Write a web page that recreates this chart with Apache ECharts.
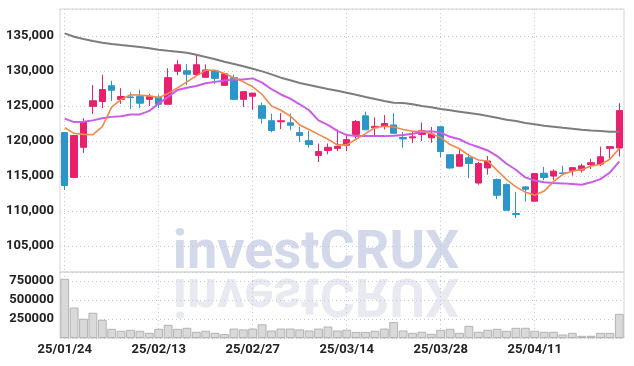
<!DOCTYPE html>
<html>
<head>
<meta charset="utf-8">
<script src="https://cdn.jsdelivr.net/npm/echarts@6/dist/echarts.min.js"></script>
<style>
html, body { margin: 0; padding: 0; background: #fff; }
#chart { width: 634px; height: 366px; }
</style>
</head>
<body>
<div id="chart"></div>
<script>
// trading days shown on the axis (yy/mm/dd)
var dates = ['25/01/24','25/01/31','25/02/03','25/02/04','25/02/05','25/02/06','25/02/07','25/02/10','25/02/11','25/02/12',
  '25/02/13','25/02/14','25/02/17','25/02/18','25/02/19','25/02/20','25/02/21','25/02/24','25/02/25','25/02/26',
  '25/02/27','25/02/28','25/03/04','25/03/05','25/03/06','25/03/07','25/03/10','25/03/11','25/03/12','25/03/13',
  '25/03/14','25/03/17','25/03/18','25/03/19','25/03/20','25/03/21','25/03/24','25/03/25','25/03/26','25/03/27',
  '25/03/28','25/03/31','25/04/01','25/04/02','25/04/03','25/04/04','25/04/07','25/04/08','25/04/09','25/04/10',
  '25/04/11','25/04/14','25/04/15','25/04/16','25/04/17','25/04/18','25/04/21','25/04/22','25/04/23','25/04/24'];

// [open, close, low, high]
var ohlc = [
  [121200,113650,113000,121200],[114800,120800,114700,120800],[119100,122750,118300,123250],[124950,125750,123850,128000],
  [125650,127350,124700,129450],[127900,127250,125700,128600],[125950,126350,125300,127550],[126300,126200,124550,126950],
  [126350,125400,124700,127350],[125950,126350,125000,126750],[126250,125250,124700,126650],[125250,129050,125250,130400],
  [129950,130900,129400,131550],[130050,129550,128000,131000],[129500,130900,129400,132250],[129100,130150,129100,130950],
  [130050,128950,128200,130050],[127950,129600,127950,129600],[129050,125950,125950,129500],[125950,127050,124850,127050],
  [126400,126850,124450,126850],[125050,123250,122500,125500],[122900,121500,121250,123900],[122750,122900,121700,124000],
  [122600,122250,121550,123900],[121200,120800,119850,122050],[120050,119500,119050,121450],[117950,118500,117000,119650],
  [118650,119100,118100,119650],[118950,119250,118550,121650],[119400,120200,118550,120750],[120950,122800,120350,123000],
  [123600,121600,121600,124200],[121900,122100,120850,123350],[122150,122500,121650,123700],[122300,121100,121100,124000],
  [120500,120300,119050,121300],[120450,120600,119700,121300],[120950,121450,120000,122650],[120450,121000,119750,122000],
  [122050,118500,117700,122050],[118050,116150,116000,118050],[116400,118050,116400,118750],[117600,116800,114700,118200],
  [114000,116800,113750,117000],[116150,117150,115200,117850],[114500,112250,111700,114650],[113800,110100,110100,113950],
  [109650,109500,109000,112700],[113450,113100,111350,113550],[111400,115350,111400,115350],[115400,114800,114400,116300],
  [115000,115700,114450,115950],[115450,115350,115150,116450],[115800,116200,115050,116300],[115850,116450,115500,116750],
  [116650,116900,116000,117450],[116700,117750,116400,119200],[118950,119200,117450,119200],[119000,124350,117800,125400]
];

var ma5 = [121900,121100,120950,120900,122050,124850,125950,126600,126550,126450,
  126200,126800,127600,128450,129300,130100,130100,129650,129050,128450,
  127750,126650,125000,124400,123550,122300,121650,120950,120250,119450,
  119450,120250,121050,121900,122100,122000,121650,121400,121400,121050,
  120500,119500,118900,117950,117300,117150,115800,114500,113450,112700,
  112250,112850,114200,115250,115700,115950,116450,116650,117400,118950];

var ma20 = [123200,122700,122750,122950,123250,123450,123550,123800,123800,124300,
  125350,126300,127300,127600,127850,128250,128450,128650,128800,128800,
  128950,128350,127400,126650,126050,125250,124400,122950,122300,121450,
  120850,120700,120700,120700,120700,120750,120850,121050,121300,121400,
  121200,120600,120250,119600,119150,118650,117850,116750,115900,114800,
  114350,114100,114000,113950,113850,113750,114100,114550,115500,117100];

var ma60 = [135380,134900,134570,134290,134050,133860,133710,133570,133430,133240,
  133050,132900,132760,132620,132330,132000,131670,131330,131000,130670,
  130330,129950,129520,129050,128670,128290,128000,127710,127430,127190,
  126900,126620,126290,126000,125710,125480,125430,125240,125000,124810,
  124570,124380,124190,124000,123810,123570,123330,123050,122860,122570,
  122380,122190,122050,121900,121760,121620,121520,121430,121330,121330];

var volume = [779000,401000,253000,332000,240000,121000,95000,108000,95000,68000,
  121000,174000,121000,134000,82000,95000,68000,51000,124000,113000,
  124000,180000,99000,124000,124000,113000,99000,124000,151000,99000,
  109000,80000,80000,95000,124000,209000,99000,68000,82000,55000,
  108000,121000,68000,160000,82000,108000,121000,95000,134000,134000,
  95000,82000,82000,46000,68000,29000,29000,68000,68000,318000];

var upColor = '#e8206e';
var downColor = '#2d96c8';
var labelFont = 'Roboto';
var gridLine = { show: true, lineStyle: { color: '#c3c7dc', type: [1, 3], width: 1 } };

function addCommas(v) {
  return String(v).replace(/\B(?=(\d{3})+(?!\d))/g, ',');
}

function axisLabel(extra) {
  var l = { color: '#222', fontFamily: labelFont, fontSize: 13, fontWeight: 'bold', margin: 6 };
  for (var k in extra) l[k] = extra[k];
  return l;
}

function getOption() {
  return {
    animation: false,
    backgroundColor: '#fff',
    graphic: [
      { type: 'text', x: 316, y: 292, scaleY: -1, z: -1, silent: true,
        style: { text: 'investCRUX', font: 'bold 54px Roboto', fill: '#e9eaf1', textAlign: 'center', textVerticalAlign: 'middle' } },
      { type: 'text', x: 316, y: 254, z: -1, silent: true,
        style: { text: 'investCRUX', font: 'bold 54px Roboto', fill: '#d3d8ea', textAlign: 'center', textVerticalAlign: 'middle' } }
    ],
    grid: [
      { left: 60, top: 9, width: 564, height: 263, outerBoundsMode: 'none', containLabel: false,
        show: true, borderColor: '#d4d4d4', borderWidth: 1 },
      { left: 60, top: 272, width: 564, height: 66, outerBoundsMode: 'none', containLabel: false,
        show: true, borderColor: '#d4d4d4', borderWidth: 1 }
    ],
    xAxis: [
      {
        type: 'category', gridIndex: 0, data: dates,
        axisLine: { show: false }, axisTick: { show: false }, axisLabel: { show: false },
        splitLine: { show: true, interval: 9, alignWithLabel: true, lineStyle: gridLine.lineStyle }
      },
      {
        type: 'category', gridIndex: 1, data: dates,
        axisLine: { show: false }, axisTick: { show: false },
        axisLabel: axisLabel({ interval: 9, margin: 5 }),
        splitLine: { show: true, interval: 9, alignWithLabel: true, lineStyle: gridLine.lineStyle }
      }
    ],
    yAxis: [
      {
        type: 'value', gridIndex: 0, min: 101290, max: 138860, splitNumber: 8,
        axisLine: { show: false }, axisTick: { show: false },
        axisLabel: axisLabel({ showMinLabel: false, showMaxLabel: false, formatter: addCommas }),
        splitLine: gridLine
      },
      {
        type: 'value', gridIndex: 1, min: 0, max: 868000, interval: 250000,
        axisLine: { show: false }, axisTick: { show: false },
        axisLabel: axisLabel({ showMinLabel: false, showMaxLabel: false, formatter: function (v) { return String(v); } }),
        splitLine: gridLine
      }
    ],
    series: [
      {
        name: 'price', type: 'candlestick', data: ohlc, barWidth: 7,
        itemStyle: { color: upColor, color0: downColor, borderColor: upColor, borderColor0: downColor, borderWidth: 1 }
      },
      { name: 'MA60', type: 'line', data: ma60, symbol: 'none', lineStyle: { color: '#7d7d7d', width: 2 } },
      { name: 'MA20', type: 'line', data: ma20, symbol: 'none', lineStyle: { color: '#cc5ce6', width: 2 } },
      { name: 'MA5', type: 'line', data: ma5, symbol: 'none', lineStyle: { color: '#f0884c', width: 1.6 } },
      {
        name: 'volume', type: 'bar', xAxisIndex: 1, yAxisIndex: 1, data: volume, barCategoryGap: '6%',
        itemStyle: { color: '#d9d9d9', borderColor: '#b3b3b3', borderWidth: 1 }
      }
    ]
  };
}

var chart = echarts.init(document.getElementById('chart'), null, { renderer: 'canvas' });
chart.setOption(getOption());
</script>
</body>
</html>
